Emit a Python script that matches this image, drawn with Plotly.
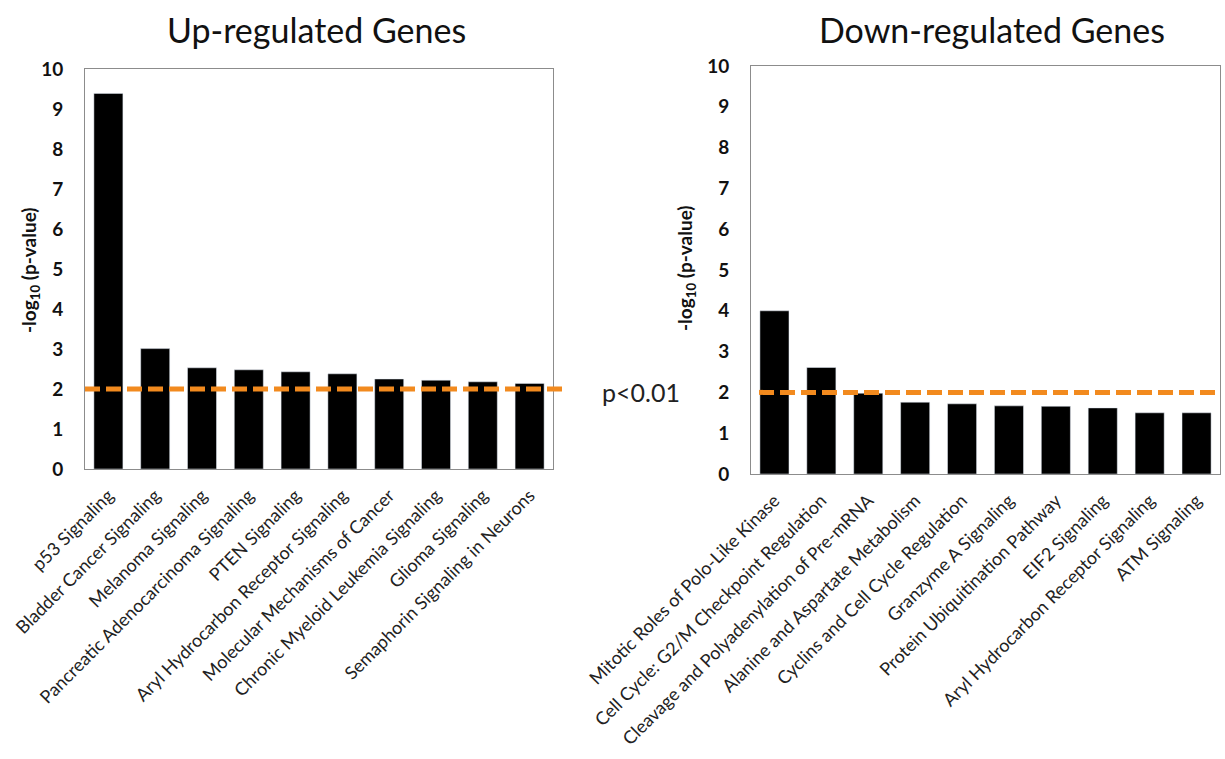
import plotly.graph_objects as go

up_categories = ["p53 Signaling", "Bladder Cancer Signaling", "Melanoma Signaling",
                 "Pancreatic Adenocarcinoma Signaling", "PTEN Signaling",
                 "Aryl Hydrocarbon Receptor Signaling", "Molecular Mechanisms of Cancer",
                 "Chronic Myeloid Leukemia Signaling", "Glioma Signaling",
                 "Semaphorin Signaling in Neurons"]
up_values = [9.39, 3.01, 2.53, 2.48, 2.43, 2.38, 2.25, 2.22, 2.18, 2.14]

down_categories = ["Mitotic Roles of Polo-Like Kinase", "Cell Cycle: G2/M Checkpoint Regulation",
                   "Cleavage and Polyadenylation of Pre-mRNA", "Alanine and Aspartate Metabolism",
                   "Cyclins and Cell Cycle Regulation", "Granzyme A Signaling",
                   "Protein Ubiquitination Pathway", "EIF2 Signaling",
                   "Aryl Hydrocarbon Receptor Signaling", "ATM Signaling"]
down_values = [4.00, 2.61, 1.98, 1.76, 1.72, 1.67, 1.66, 1.62, 1.50, 1.50]

threshold = 2.0
y_ticks = list(range(0, 11))

W, H = 1225, 759
FONT = "Lato"

def px(v):
    return v / W

def py(v):
    return 1 - v / H

fig = go.Figure()
fig.add_trace(go.Bar(x=up_categories, y=up_values, marker_color="black",
                     xaxis="x", yaxis="y", showlegend=False))
fig.add_trace(go.Bar(x=down_categories, y=down_values, marker_color="black",
                     xaxis="x2", yaxis="y2", showlegend=False))

axis_common = dict(showline=True, linecolor="#8c8c8c", linewidth=1, mirror=True,
                   showgrid=False, zeroline=False, automargin=False)
xcommon = dict(tickangle=-45, tickfont=dict(family=FONT, size=18, color="#222"),
               ticks="", ticklabelstandoff=8, **axis_common)
ycommon = dict(range=[0, 10], tickvals=y_ticks, ticks="", ticklabelstandoff=17,
               tickfont=dict(family=FONT, size=19, color="#111", weight="bold"),
               **axis_common)

fig.update_layout(
    width=W, height=H,
    margin=dict(l=0, r=0, t=0, b=0),
    plot_bgcolor="white", paper_bgcolor="white",
    bargap=0.38,
    xaxis=dict(domain=[px(85), px(553)], anchor="y", **xcommon),
    yaxis=dict(domain=[py(469), py(69)], anchor="x", **ycommon),
    xaxis2=dict(domain=[px(751), px(1220)], anchor="y2", **xcommon),
    yaxis2=dict(domain=[py(474), py(66)], anchor="x2", **ycommon),
)

orange = "#F28A1E"
fig.add_shape(type="line", xref="paper", yref="y", x0=px(85), x1=px(568),
              y0=threshold, y1=threshold,
              line=dict(color=orange, width=5, dash="15px,6px"))
fig.add_shape(type="line", xref="paper", yref="y2", x0=px(759), x1=px(1220),
              y0=threshold, y1=threshold,
              line=dict(color=orange, width=5, dash="15px,6px"))

ann = []
ann.append(dict(text="Up-regulated Genes", x=px(316), y=py(30), xref="paper", yref="paper",
                showarrow=False, font=dict(family=FONT, size=34, color="#111"),
                xanchor="center", yanchor="middle"))
ann.append(dict(text="Down-regulated Genes", x=px(992), y=py(30), xref="paper", yref="paper",
                showarrow=False, font=dict(family=FONT, size=34, color="#111"),
                xanchor="center", yanchor="middle"))
ann.append(dict(text="p<0.01", x=px(641), y=py(392), xref="paper", yref="paper",
                showarrow=False, font=dict(family=FONT, size=25, color="#222"),
                xanchor="center", yanchor="middle"))
for xc, yc in [(30, 270), (686, 268)]:
    ann.append(dict(text="-log<sub>10</sub> (p-value)", x=px(xc), y=py(yc),
                    xref="paper", yref="paper", showarrow=False, textangle=-90,
                    font=dict(family=FONT, size=19, color="#111", weight="bold"),
                    xanchor="center", yanchor="middle"))
fig.update_layout(annotations=ann)

fig.write_html("out.html")
